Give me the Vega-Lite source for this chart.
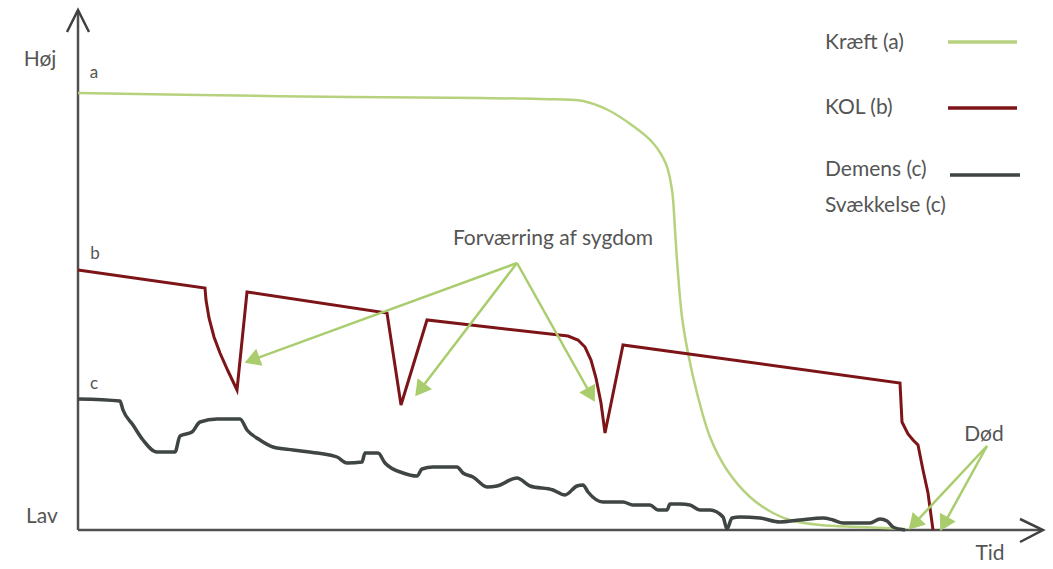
{
  "$schema": "https://vega.github.io/schema/vega-lite/v6.json",
  "width": 1053,
  "height": 569,
  "autosize": {"type": "fit", "contains": "padding"},
  "padding": 0,
  "background": "white",
  "config": {"view": {"stroke": null}},
  "datasets": {
    "serier": [
      {"serie": "Kræft", "i": 0, "x": 0, "y": 437},
      {"serie": "Kræft", "i": 1, "x": 122, "y": 435},
      {"serie": "Kræft", "i": 2, "x": 272, "y": 433},
      {"serie": "Kræft", "i": 3, "x": 402, "y": 432},
      {"serie": "Kræft", "i": 4, "x": 462, "y": 431},
      {"serie": "Kræft", "i": 5, "x": 505, "y": 429},
      {"serie": "Kræft", "i": 6, "x": 530, "y": 420},
      {"serie": "Kræft", "i": 7, "x": 555, "y": 404},
      {"serie": "Kræft", "i": 8, "x": 575, "y": 387},
      {"serie": "Kræft", "i": 9, "x": 588, "y": 366},
      {"serie": "Kræft", "i": 10, "x": 594, "y": 340},
      {"serie": "Kræft", "i": 11, "x": 597, "y": 300},
      {"serie": "Kræft", "i": 12, "x": 599, "y": 270},
      {"serie": "Kræft", "i": 13, "x": 604, "y": 213},
      {"serie": "Kræft", "i": 14, "x": 610, "y": 177},
      {"serie": "Kræft", "i": 15, "x": 619, "y": 137},
      {"serie": "Kræft", "i": 16, "x": 632, "y": 93},
      {"serie": "Kræft", "i": 17, "x": 649, "y": 60},
      {"serie": "Kræft", "i": 18, "x": 672, "y": 33},
      {"serie": "Kræft", "i": 19, "x": 695, "y": 17},
      {"serie": "Kræft", "i": 20, "x": 712, "y": 10},
      {"serie": "Kræft", "i": 21, "x": 742, "y": 5},
      {"serie": "Kræft", "i": 22, "x": 782, "y": 3},
      {"serie": "Kræft", "i": 23, "x": 827, "y": 1},

      {"serie": "KOL", "i": 0, "x": 0, "y": 260},
      {"serie": "KOL", "i": 1, "x": 127, "y": 242},
      {"serie": "KOL", "i": 2, "x": 128, "y": 230},
      {"serie": "KOL", "i": 3, "x": 131, "y": 212},
      {"serie": "KOL", "i": 4, "x": 136, "y": 193},
      {"serie": "KOL", "i": 5, "x": 142, "y": 177},
      {"serie": "KOL", "i": 6, "x": 150, "y": 159},
      {"serie": "KOL", "i": 7, "x": 159, "y": 140},
      {"serie": "KOL", "i": 8, "x": 169, "y": 238},
      {"serie": "KOL", "i": 9, "x": 309, "y": 217},
      {"serie": "KOL", "i": 10, "x": 323, "y": 125},
      {"serie": "KOL", "i": 11, "x": 349, "y": 210},
      {"serie": "KOL", "i": 12, "x": 490, "y": 194},
      {"serie": "KOL", "i": 13, "x": 500, "y": 190},
      {"serie": "KOL", "i": 14, "x": 507, "y": 183},
      {"serie": "KOL", "i": 15, "x": 513, "y": 170},
      {"serie": "KOL", "i": 16, "x": 518, "y": 152},
      {"serie": "KOL", "i": 17, "x": 523, "y": 127},
      {"serie": "KOL", "i": 18, "x": 527, "y": 97},
      {"serie": "KOL", "i": 19, "x": 545, "y": 185},
      {"serie": "KOL", "i": 20, "x": 822, "y": 147},
      {"serie": "KOL", "i": 21, "x": 824, "y": 108},
      {"serie": "KOL", "i": 22, "x": 830, "y": 96},
      {"serie": "KOL", "i": 23, "x": 835, "y": 90},
      {"serie": "KOL", "i": 24, "x": 840, "y": 85},
      {"serie": "KOL", "i": 25, "x": 845, "y": 60},
      {"serie": "KOL", "i": 26, "x": 850, "y": 37},
      {"serie": "KOL", "i": 27, "x": 855, "y": 0},

      {"serie": "Demens", "i": 0, "x": 0, "y": 131},
      {"serie": "Demens", "i": 1, "x": 42, "y": 129},
      {"serie": "Demens", "i": 2, "x": 45, "y": 120},
      {"serie": "Demens", "i": 3, "x": 55, "y": 105},
      {"serie": "Demens", "i": 4, "x": 65, "y": 90},
      {"serie": "Demens", "i": 5, "x": 79, "y": 78},
      {"serie": "Demens", "i": 6, "x": 97, "y": 78},
      {"serie": "Demens", "i": 7, "x": 102, "y": 94},
      {"serie": "Demens", "i": 8, "x": 114, "y": 98},
      {"serie": "Demens", "i": 9, "x": 122, "y": 108},
      {"serie": "Demens", "i": 10, "x": 139, "y": 111},
      {"serie": "Demens", "i": 11, "x": 162, "y": 111},
      {"serie": "Demens", "i": 12, "x": 169, "y": 100},
      {"serie": "Demens", "i": 13, "x": 182, "y": 90},
      {"serie": "Demens", "i": 14, "x": 195, "y": 83},
      {"serie": "Demens", "i": 15, "x": 215, "y": 80},
      {"serie": "Demens", "i": 16, "x": 239, "y": 77},
      {"serie": "Demens", "i": 17, "x": 259, "y": 73},
      {"serie": "Demens", "i": 18, "x": 269, "y": 67},
      {"serie": "Demens", "i": 19, "x": 284, "y": 68},
      {"serie": "Demens", "i": 20, "x": 287, "y": 77},
      {"serie": "Demens", "i": 21, "x": 300, "y": 77},
      {"serie": "Demens", "i": 22, "x": 307, "y": 67},
      {"serie": "Demens", "i": 23, "x": 325, "y": 57},
      {"serie": "Demens", "i": 24, "x": 339, "y": 54},
      {"serie": "Demens", "i": 25, "x": 344, "y": 61},
      {"serie": "Demens", "i": 26, "x": 355, "y": 63},
      {"serie": "Demens", "i": 27, "x": 379, "y": 63},
      {"serie": "Demens", "i": 28, "x": 385, "y": 57},
      {"serie": "Demens", "i": 29, "x": 395, "y": 53},
      {"serie": "Demens", "i": 30, "x": 409, "y": 43},
      {"serie": "Demens", "i": 31, "x": 419, "y": 44},
      {"serie": "Demens", "i": 32, "x": 439, "y": 52},
      {"serie": "Demens", "i": 33, "x": 452, "y": 44},
      {"serie": "Demens", "i": 34, "x": 475, "y": 40},
      {"serie": "Demens", "i": 35, "x": 487, "y": 35},
      {"serie": "Demens", "i": 36, "x": 499, "y": 44},
      {"serie": "Demens", "i": 37, "x": 505, "y": 45},
      {"serie": "Demens", "i": 38, "x": 510, "y": 38},
      {"serie": "Demens", "i": 39, "x": 525, "y": 28},
      {"serie": "Demens", "i": 40, "x": 545, "y": 28},
      {"serie": "Demens", "i": 41, "x": 555, "y": 25},
      {"serie": "Demens", "i": 42, "x": 572, "y": 25},
      {"serie": "Demens", "i": 43, "x": 580, "y": 20},
      {"serie": "Demens", "i": 44, "x": 589, "y": 20},
      {"serie": "Demens", "i": 45, "x": 592, "y": 26},
      {"serie": "Demens", "i": 46, "x": 602, "y": 26},
      {"serie": "Demens", "i": 47, "x": 612, "y": 25},
      {"serie": "Demens", "i": 48, "x": 622, "y": 20},
      {"serie": "Demens", "i": 49, "x": 632, "y": 20},
      {"serie": "Demens", "i": 50, "x": 645, "y": 13},
      {"serie": "Demens", "i": 51, "x": 649, "y": 1},
      {"serie": "Demens", "i": 52, "x": 654, "y": 12},
      {"serie": "Demens", "i": 53, "x": 662, "y": 13},
      {"serie": "Demens", "i": 54, "x": 682, "y": 12},
      {"serie": "Demens", "i": 55, "x": 702, "y": 8},
      {"serie": "Demens", "i": 56, "x": 722, "y": 10},
      {"serie": "Demens", "i": 57, "x": 745, "y": 12},
      {"serie": "Demens", "i": 58, "x": 755, "y": 10},
      {"serie": "Demens", "i": 59, "x": 765, "y": 7},
      {"serie": "Demens", "i": 60, "x": 792, "y": 7},
      {"serie": "Demens", "i": 61, "x": 802, "y": 11},
      {"serie": "Demens", "i": 62, "x": 809, "y": 9},
      {"serie": "Demens", "i": 63, "x": 815, "y": 3},
      {"serie": "Demens", "i": 64, "x": 827, "y": 0}
    ],
    "akser": [
      {"akse": "y", "x": 0, "y": 0, "x2": 0, "y2": 519},
      {"akse": "x", "x": 0, "y": 0, "x2": 964, "y2": 0}
    ],
    "pilespidser": [
      {"akse": "y", "i": 0, "x": -11, "y": 498},
      {"akse": "y", "i": 1, "x": 0, "y": 520},
      {"akse": "y", "i": 2, "x": 11, "y": 498},
      {"akse": "x", "i": 0, "x": 942, "y": 11},
      {"akse": "x", "i": 1, "x": 965, "y": 0},
      {"akse": "x", "i": 2, "x": 942, "y": -12}
    ],
    "pile": [
      {"note": "Forværring", "x": 439, "y": 267, "x2": 174, "y2": 170},
      {"note": "Forværring", "x": 439, "y": 267, "x2": 342, "y2": 140},
      {"note": "Forværring", "x": 439, "y": 267, "x2": 513, "y2": 135},
      {"note": "Død", "x": 909, "y": 84, "x2": 836, "y2": 6},
      {"note": "Død", "x": 909, "y": 84, "x2": 866, "y2": 6}
    ],
    "legendelinjer": [
      {"serie": "Kræft", "x": 870, "y": 488, "x2": 939},
      {"serie": "KOL", "x": 870, "y": 422, "x2": 939},
      {"serie": "Demens", "x": 872, "y": 355, "x2": 942}
    ],
    "tekster": [
      {"slags": "stor", "tekst": "Høj", "x": -38, "y": 470},
      {"slags": "stor", "tekst": "Lav", "x": -36, "y": 13},
      {"slags": "stor", "tekst": "Tid", "x": 912, "y": -24},
      {"slags": "lille", "tekst": "a", "x": 16, "y": 457},
      {"slags": "lille", "tekst": "b", "x": 17, "y": 276},
      {"slags": "lille", "tekst": "c", "x": 16, "y": 146},
      {"slags": "stor", "tekst": "Forværring af sygdom", "x": 475, "y": 291},
      {"slags": "stor", "tekst": "Død", "x": 906, "y": 95},
      {"slags": "venstre", "tekst": "Kræft (a)", "x": 747, "y": 487},
      {"slags": "venstre", "tekst": "KOL (b)", "x": 747, "y": 422},
      {"slags": "venstre", "tekst": "Demens (c)", "x": 747, "y": 360},
      {"slags": "venstre", "tekst": "Svækkelse (c)", "x": 747, "y": 324}
    ]
  },
  "encoding": {
    "x": {"field": "x", "type": "quantitative", "scale": {"domain": [-78, 975], "nice": false, "zero": false}, "axis": null},
    "y": {"field": "y", "type": "quantitative", "scale": {"domain": [-39, 530], "nice": false, "zero": false}, "axis": null}
  },
  "layer": [
    {
      "data": {"name": "akser"},
      "mark": {"type": "rule", "color": "#505050", "strokeWidth": 2.5},
      "encoding": {"x2": {"field": "x2"}, "y2": {"field": "y2"}}
    },
    {
      "data": {"name": "pilespidser"},
      "mark": {"type": "line", "color": "#404040", "strokeWidth": 2.5, "strokeJoin": "miter"},
      "encoding": {"detail": {"field": "akse"}, "order": {"field": "i"}}
    },
    {
      "data": {"name": "serier"},
      "transform": [{"filter": "datum.serie === 'Kræft'"}],
      "mark": {"type": "line", "strokeWidth": 2.5, "interpolate": "catmull-rom"},
      "encoding": {
        "order": {"field": "i"},
        "color": {"field": "serie", "scale": {"domain": ["Kræft", "KOL", "Demens"], "range": ["#b7d27e", "#7d1518", "#3e4542"]}, "legend": null}
      }
    },
    {
      "data": {"name": "serier"},
      "transform": [{"filter": "datum.serie === 'KOL'"}],
      "mark": {"type": "line", "strokeWidth": 3},
      "encoding": {
        "order": {"field": "i"},
        "color": {"field": "serie", "legend": null}
      }
    },
    {
      "data": {"name": "serier"},
      "transform": [{"filter": "datum.serie === 'Demens'"}],
      "mark": {"type": "line", "strokeWidth": 3.5, "strokeJoin": "round", "interpolate": "monotone"},
      "encoding": {
        "order": {"field": "i"},
        "color": {"field": "serie", "legend": null}
      }
    },
    {
      "data": {"name": "pile"},
      "mark": {"type": "rule", "color": "#a9cd6d", "strokeWidth": 2.5},
      "encoding": {"x2": {"field": "x2"}, "y2": {"field": "y2"}}
    },
    {
      "data": {"name": "pile"},
      "transform": [{"calculate": "atan2(datum.x2 - datum.x, datum.y2 - datum.y) * 180 / PI", "as": "vinkel"}],
      "mark": {"type": "point", "shape": "triangle-up", "filled": true, "color": "#a9cd6d", "opacity": 1, "size": 330},
      "encoding": {
        "x": {"field": "x2", "type": "quantitative"},
        "y": {"field": "y2", "type": "quantitative"},
        "angle": {"field": "vinkel", "type": "quantitative", "scale": null}
      }
    },
    {
      "data": {"name": "legendelinjer"},
      "mark": {"type": "rule", "strokeWidth": 3.5},
      "encoding": {
        "x2": {"field": "x2"},
        "color": {"field": "serie", "legend": null}
      }
    },
    {
      "data": {"name": "tekster"},
      "transform": [{"filter": "datum.slags === 'stor'"}],
      "mark": {"type": "text", "font": "Lato", "fontSize": 21, "color": "#555555", "align": "center", "baseline": "middle"},
      "encoding": {"text": {"field": "tekst"}}
    },
    {
      "data": {"name": "tekster"},
      "transform": [{"filter": "datum.slags === 'lille'"}],
      "mark": {"type": "text", "font": "Lato", "fontSize": 17, "color": "#555555", "align": "center", "baseline": "middle"},
      "encoding": {"text": {"field": "tekst"}}
    },
    {
      "data": {"name": "tekster"},
      "transform": [{"filter": "datum.slags === 'venstre'"}],
      "mark": {"type": "text", "font": "Lato", "fontSize": 21, "color": "#555555", "align": "left", "baseline": "middle"},
      "encoding": {"text": {"field": "tekst"}}
    }
  ]
}
